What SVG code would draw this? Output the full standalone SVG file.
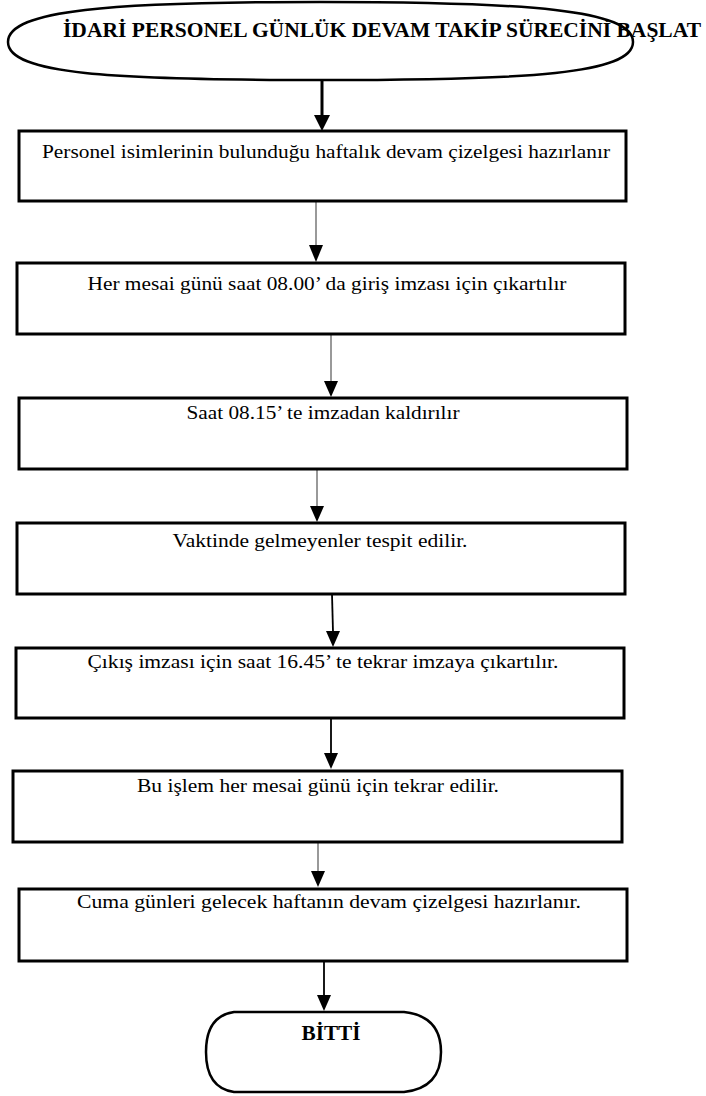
<svg xmlns="http://www.w3.org/2000/svg" width="706" height="1096" viewBox="0 0 706 1096">
<style>
.box{fill:#fff;stroke:#000;stroke-width:3}
.t{font-family:"Liberation Serif","Times New Roman",serif;font-size:18px;fill:#000;text-anchor:middle}
.b{font-weight:bold;font-size:21px}
.thin{stroke:#555;stroke-width:1.2;fill:none}
.mid{stroke:#000;stroke-width:1.8;fill:none}
.thick{stroke:#000;stroke-width:3;fill:none}
.ah{fill:#000}
</style>
<rect width="706" height="1096" fill="#fff"/>
<g id="start">
<path d="M8,42 C8,10 110,2 320,2 C530,2 633,10 633,42 C633,74 530,80 320,80 C110,80 8,74 8,42 Z" fill="#fff" stroke="#000" stroke-width="2.5"/>
<text class="t b" x="382" y="37" textLength="638" lengthAdjust="spacingAndGlyphs">İDARİ PERSONEL GÜNLÜK DEVAM TAKİP SÜRECİNİ BAŞLAT</text>
</g>
<g id="connectors">
<line class="thick" x1="322" y1="81" x2="322" y2="116"/>
<polygon class="ah" points="314,115 330,115 322,131"/>
<line class="thin" x1="316" y1="201" x2="316" y2="246"/>
<polygon class="ah" points="309,245 323,245 316,262"/>
<line class="thin" x1="331" y1="334" x2="331" y2="382"/>
<polygon class="ah" points="324,381 338,381 331,397"/>
<line class="thin" x1="317" y1="469" x2="317" y2="507"/>
<polygon class="ah" points="310,506 324,506 317,522"/>
<line class="mid" x1="332" y1="594" x2="333" y2="632"/>
<polygon class="ah" points="326,631 340,631 333,647"/>
<line class="mid" x1="331" y1="718" x2="331" y2="754"/>
<polygon class="ah" points="324,753 338,753 331,769"/>
<line class="thin" x1="318" y1="842" x2="318" y2="872"/>
<polygon class="ah" points="311,871 325,871 318,887"/>
<line class="mid" x1="324" y1="961" x2="324" y2="996"/>
<polygon class="ah" points="317,995 331,995 324,1011"/>
</g>
<g id="n1">
<rect class="box" x="19" y="131" width="607" height="70"/>
<text class="t" x="326" y="158" textLength="568" lengthAdjust="spacingAndGlyphs">Personel isimlerinin bulunduğu haftalık devam çizelgesi hazırlanır</text>
</g>
<g id="n2">
<rect class="box" x="17" y="263" width="608" height="71"/>
<text class="t" x="327" y="290" textLength="479" lengthAdjust="spacingAndGlyphs">Her mesai günü saat 08.00’ da giriş imzası için çıkartılır</text>
</g>
<g id="n3">
<rect class="box" x="19" y="398" width="608" height="71"/>
<text class="t" x="323" y="419" textLength="273" lengthAdjust="spacingAndGlyphs">Saat 08.15’ te imzadan kaldırılır</text>
</g>
<g id="n4">
<rect class="box" x="17" y="523" width="608" height="71"/>
<text class="t" x="320" y="547" textLength="295" lengthAdjust="spacingAndGlyphs">Vaktinde gelmeyenler tespit edilir.</text>
</g>
<g id="n5">
<rect class="box" x="16" y="648" width="608" height="70"/>
<text class="t" x="323" y="668" textLength="471" lengthAdjust="spacingAndGlyphs">Çıkış imzası için saat 16.45’ te tekrar imzaya çıkartılır.</text>
</g>
<g id="n6">
<rect class="box" x="13" y="771" width="609" height="71"/>
<text class="t" x="318" y="792" textLength="362" lengthAdjust="spacingAndGlyphs">Bu işlem her mesai günü için tekrar edilir.</text>
</g>
<g id="n7">
<rect class="box" x="19" y="889" width="608" height="72"/>
<text class="t" x="329" y="908" textLength="504" lengthAdjust="spacingAndGlyphs">Cuma günleri gelecek haftanın devam çizelgesi hazırlanır.</text>
</g>
<g id="end">
<path d="M234,1012 L404,1012 Q441,1016 441,1052 Q441,1088 404,1092 L234,1092 Q206,1088 206,1052 Q206,1016 234,1012 Z" fill="#fff" stroke="#000" stroke-width="2.5"/>
<text class="t b" x="331" y="1040" font-size="20" textLength="59" lengthAdjust="spacingAndGlyphs">BİTTİ</text>
</g>
</svg>
